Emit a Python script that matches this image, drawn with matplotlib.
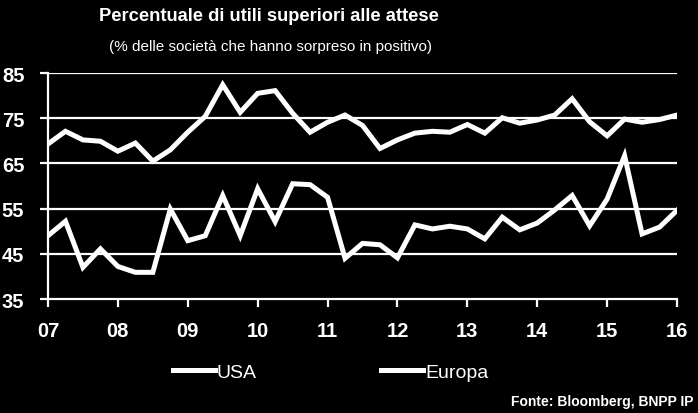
import numpy as np
import matplotlib
matplotlib.use("Agg")
import matplotlib.pyplot as plt

plt.rcParams['font.family'] = ['Liberation Sans Narrow', 'Liberation Sans', 'DejaVu Sans']

# Quarterly data, Q1 2007 .. Q1 2016
usa = [69.3, 72.1, 70.2, 69.9, 67.7, 69.5, 65.5, 68.0, 71.9, 75.4,
       82.4, 76.3, 80.5, 81.1, 76.1, 71.9, 74.1, 75.7, 73.4, 68.3,
       70.2, 71.7, 72.1, 71.9, 73.6, 71.7, 75.1, 73.9, 74.6, 75.7,
       79.3, 74.2, 71.1, 74.8, 74.1, 74.7, 75.7]
europa = [49.0, 52.2, 42.0, 46.1, 42.2, 40.9, 40.9, 54.9, 47.9, 49.0,
          57.9, 49.0, 59.4, 52.1, 60.5, 60.3, 57.5, 44.0, 47.3, 47.0,
          44.1, 51.4, 50.5, 51.1, 50.5, 48.3, 53.1, 50.3, 51.8, 54.7,
          57.9, 51.2, 57.1, 66.7, 49.4, 50.9, 54.6]
years = np.arange(2007, 2017)
year_labels = ["07", "08", "09", "10", "11", "12", "13", "14", "15", "16"]
x = 2007 + np.arange(len(usa)) / 4

fig = plt.figure(figsize=(6.98, 4.14), dpi=100, facecolor="black")
ax = fig.add_axes([48/698, 1 - 300/414, (677 - 48)/698, (300 - 74)/414])
ax.set_facecolor("black")

for v in [45, 55, 65, 75, 85]:
    ax.axhline(v, color="white", lw=1.6, zorder=1)

ax.plot(x, usa, color="white", lw=3.6, label="USA", zorder=3, solid_joinstyle="miter")
ax.plot(x, europa, color="white", lw=3.6, label="Europa", zorder=3, solid_joinstyle="miter")

ax.set_xlim(2007, 2016)
ax.set_ylim(35, 85)
ax.set_yticks([35, 45, 55, 65, 75, 85])
ax.set_xticks(years)
ax.set_xticklabels(year_labels)

for s in ["top", "right"]:
    ax.spines[s].set_visible(False)
for s in ["left", "bottom"]:
    ax.spines[s].set_color("white")
    ax.spines[s].set_linewidth(1.6)

ax.tick_params(axis="y", colors="white", length=6, width=1.6, pad=11,
               labelsize=14.5)
ax.tick_params(axis="x", colors="white", length=6, width=1.6, pad=10,
               labelsize=14.5)
for lbl in ax.get_xticklabels() + ax.get_yticklabels():
    lbl.set_fontweight("bold")

fig.text(0.386, 0.959, "Percentuale di utili superiori alle attese",
         color="white", fontsize=13.2, fontweight="bold", ha="center", va="center")
fig.text(0.387, 0.886, "(% delle società che hanno sorpreso in positivo)",
         color="white", fontsize=11, ha="center", va="center")

leg = fig.legend(loc="center left", bbox_to_anchor=(173/698, 1 - 373/414), ncol=2,
                 frameon=False, fontsize=14, handlelength=2.15, handletextpad=0.1,
                 columnspacing=6.4, labelcolor="white", borderpad=0,
                 borderaxespad=0)
for h in leg.get_lines():
    h.set_linewidth(3.6)

fig.text(0.993, 0.029, "Fonte: Bloomberg, BNPP IP", color="white", fontsize=10,
         fontweight="bold", ha="right", va="center")

fig.savefig("out.png", dpi=100, facecolor="black")
